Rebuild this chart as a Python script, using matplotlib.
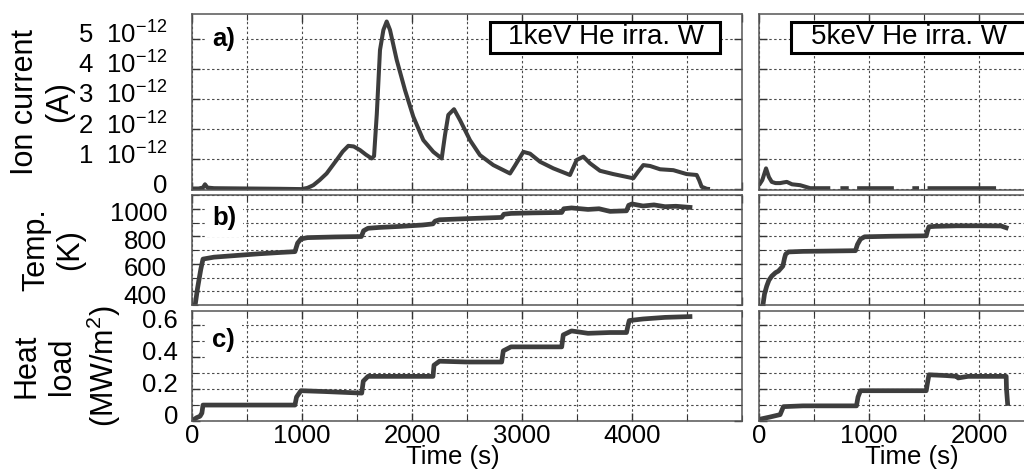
import numpy as np
import matplotlib
matplotlib.use("Agg")
import matplotlib.pyplot as plt
from matplotlib.patches import Rectangle
from matplotlib.ticker import MultipleLocator
import matplotlib.transforms as mtransforms

plt.rcParams['font.family'] = ['Liberation Sans', 'DejaVu Sans']
plt.rcParams['mathtext.fontset'] = 'custom'
plt.rcParams['mathtext.rm'] = 'Liberation Sans'
plt.rcParams['mathtext.it'] = 'Liberation Sans:italic'
plt.rcParams['mathtext.bf'] = 'Liberation Sans:bold'

# ---------------- data (1 keV, left column) ----------------
t_ion_1 = [0, 60, 100, 118, 140, 200, 500, 800, 997, 1050, 1103, 1160, 1224, 1315, 1370,
           1421, 1470, 1527, 1580, 1633, 1655, 1680, 1709, 1740, 1770, 1800, 1861, 1936,
           2012, 2103, 2194, 2270, 2300, 2330, 2382, 2436, 2527, 2618, 2739, 2891, 2936,
           3012, 3073, 3164, 3285, 3436, 3470, 3497, 3558, 3618, 3709, 3830, 4012, 4060,
           4103, 4164, 4255, 4376, 4497, 4588, 4610, 4633, 4680, 4709]
ion_1 = [0.02, 0.02, 0.05, 0.16, 0.05, 0.03, 0.02, 0.01, 0.0, 0.04, 0.13, 0.3, 0.52, 0.97,
         1.25, 1.44, 1.42, 1.3, 1.15, 1.02, 1.1, 2.5, 4.63, 5.3, 5.58, 5.3, 4.3, 3.3, 2.41,
         1.63, 1.24, 1.02, 1.8, 2.47, 2.66, 2.3, 1.63, 1.13, 0.8, 0.52, 0.78, 1.24, 1.18,
         0.91, 0.69, 0.47, 0.75, 0.97, 1.08, 0.86, 0.61, 0.5, 0.36, 0.6, 0.8, 0.77, 0.66,
         0.63, 0.5, 0.47, 0.3, 0.08, 0.01, 0.0]   # x 1e-12 A

t_temp_1 = [27, 50, 80, 100, 200, 400, 600, 800, 936, 960, 990, 1050, 1300, 1540, 1560,
            1600, 1700, 1900, 2100, 2190, 2210, 2250, 2500, 2815, 2835, 2900, 3100, 3361,
            3380, 3450, 3600, 3700, 3800, 3950, 3970, 4000, 4100, 4200, 4300, 4400, 4527]
temp_1 = [290, 420, 560, 634, 648, 660, 672, 682, 688, 750, 780, 790, 795, 798, 840, 858,
          864, 872, 882, 890, 910, 920, 928, 937, 960, 966, 970, 973, 1000, 1006, 995,
          1000, 981, 985, 1025, 1035, 1020, 1028, 1015, 1018, 1010]

t_heat_1 = [0, 40, 73, 90, 100, 400, 936, 950, 990, 1200, 1543, 1557, 1600, 1900, 2191,
            2200, 2250, 2500, 2815, 2830, 2900, 3361, 3375, 3450, 3600, 3800, 3950, 3964,
            3975, 4100, 4300, 4527]
heat_1 = [0, 0.02, 0.03, 0.05, 0.1, 0.1, 0.1, 0.15, 0.19, 0.185, 0.175, 0.25, 0.28, 0.28,
          0.28, 0.35, 0.375, 0.37, 0.37, 0.44, 0.465, 0.465, 0.54, 0.565, 0.55, 0.555,
          0.555, 0.6, 0.63, 0.64, 0.65, 0.655]

# ---------------- data (5 keV, right column) ----------------
t_ion_2 = [0, 30, 64, 90, 116, 150, 192, 220, 253, 300, 374, 420, 466, 648, 649, 740, 816,
           817, 892, 1226, 1227, 1394, 1455, 1456, 1532, 2155]
ion_2 = [0.13, 0.3, 0.69, 0.4, 0.24, 0.2, 0.2, 0.22, 0.24, 0.16, 0.13, 0.08, 0.03, 0.03,
         np.nan, 0.03, 0.03, np.nan, 0.03, 0.03, np.nan, 0.03, 0.03, np.nan, 0.03, 0.03]

t_temp_2 = [34, 50, 70, 90, 116, 150, 177, 217, 232, 242, 268, 400, 600, 877, 895, 922,
            960, 1200, 1520, 1532, 1545, 1600, 1800, 2000, 2200, 2247]
temp_2 = [290, 380, 437, 480, 510, 535, 547, 583, 640, 669, 686, 690, 692, 695, 740, 779,
          796, 800, 803, 840, 869, 872, 876, 876, 875, 862]

t_heat_2 = [0, 100, 192, 210, 222, 400, 700, 886, 900, 922, 1200, 1520, 1532, 1545, 1700,
            1800, 1810, 1900, 2247, 2250, 2260]
heat_2 = [0.01, 0.025, 0.04, 0.07, 0.09, 0.095, 0.095, 0.095, 0.15, 0.19, 0.19, 0.19, 0.24,
          0.29, 0.285, 0.28, 0.27, 0.28, 0.28, 0.2, 0.11]

ion_ticks = [0, 1, 2, 3, 4, 5]
ion_labels = ['0'] + [f'{v}  10$^{{\\mathrm{{-12}}}}$' for v in ion_ticks[1:]]
temp_ticks = [400, 600, 800, 1000]
heat_ticks = [0, 0.2, 0.4, 0.6]
time_ticks_1 = [0, 1000, 2000, 3000, 4000]
time_ticks_2 = [0, 1000, 2000]
titles = ['1keV He irra. W', '5keV He irra. W']
panel_tags = ['a)', 'b)', 'c)']

# ---------------- layout ----------------
W, H = 1024, 475
fig = plt.figure(figsize=(W / 100, H / 100), dpi=100)


def rect(l, t, r, b):
    return [l / W, 1 - b / H, (r - l) / W, (b - t) / H]


rows = [(14, 190), (195, 305), (311, 421)]
cols = [(192, 742), (759, 1034)]
axes = [[fig.add_axes(rect(cl, rt, cr, rb)) for (cl, cr) in cols] for (rt, rb) in rows]

LC = '#3d3d3d'
GC = '#4a4a4a'
FS = 18.5

for r in range(3):
    for c in range(2):
        ax = axes[r][c]
        ax.set_axisbelow(True)
        for s in ax.spines.values():
            s.set_color('#555555')
            s.set_linewidth(1.1)
        ax.tick_params(which='both', direction='in', top=True, right=True,
                       colors='#333333', labelsize=FS, labelcolor='black')
        ax.tick_params(which='major', length=6, width=1)
        ax.tick_params(which='minor', length=4, width=0.8)
        ax.grid(True, which='both', color=GC, linestyle=(0, (2.2, 2.2)), linewidth=0.8)
        if c == 0:
            ax.set_xlim(0, 5000)
        else:
            ax.set_xlim(0, 2500)
        ax.xaxis.set_major_locator(MultipleLocator(1000))
        ax.xaxis.set_minor_locator(MultipleLocator(500))
        if r < 2:
            ax.tick_params(labelbottom=False)

# panel a
for c, (tt, yy) in enumerate([(t_ion_1, ion_1), (t_ion_2, ion_2)]):
    ax = axes[0][c]
    ax.plot(tt, yy, color=LC, lw=2.9, solid_joinstyle='round', solid_capstyle='butt')
    ax.set_ylim(-0.03, 5.83)
    ax.set_yticks(ion_ticks)
    ax.yaxis.set_minor_locator(plt.NullLocator())
# panel b
for c, (tt, yy) in enumerate([(t_temp_1, temp_1), (t_temp_2, temp_2)]):
    ax = axes[1][c]
    ax.plot(tt, yy, color=LC, lw=3.4, solid_joinstyle='round')
    ax.set_ylim(300, 1100)
    ax.set_yticks(temp_ticks)
    ax.yaxis.set_minor_locator(MultipleLocator(100))
# panel c
for c, (tt, yy) in enumerate([(t_heat_1, heat_1), (t_heat_2, heat_2)]):
    ax = axes[2][c]
    ax.plot(tt, yy, color=LC, lw=3.4, solid_joinstyle='round')
    ax.set_ylim(0, 0.69)
    ax.set_yticks(heat_ticks)
    ax.yaxis.set_minor_locator(MultipleLocator(0.1))

axes[0][0].set_yticklabels(ion_labels)
axes[1][0].set_yticklabels([str(v) for v in temp_ticks])
axes[2][0].set_yticklabels(['0', '0.2', '0.4', '0.6'])
axes[0][0].tick_params(axis='y', pad=18)
axes[1][0].tick_params(axis='y', pad=18)
axes[2][0].tick_params(axis='y', pad=10)
for r in range(3):
    axes[r][1].tick_params(axis='y', labelleft=False)

axes[2][0].set_xticks(time_ticks_1)
axes[2][0].set_xticklabels([str(v) for v in time_ticks_1])
axes[2][1].set_xticks(time_ticks_2)
axes[2][1].set_xticklabels([str(v) for v in time_ticks_2])
for c in range(2):
    axes[2][c].tick_params(axis='x', pad=2)

# small vertical offsets of y tick labels as in the reference
for ax, dy in [(axes[0][0], 6), (axes[1][0], -3), (axes[2][0], 7)]:
    off = mtransforms.ScaledTranslation(0, dy / 100, fig.dpi_scale_trans)
    for lab in ax.get_yticklabels():
        lab.set_transform(lab.get_transform() + off)

# panel tags
for r, tag in enumerate(panel_tags):
    ax = axes[r][0]
    rt, rb = rows[r]
    ycen = [39, 218, 340][r]
    ax.text(20 / 550, (rb - ycen) / (rb - rt), tag, transform=ax.transAxes,
            fontsize=18.5, fontweight='bold', ha='left', va='center', zorder=4,
            bbox=dict(facecolor='white', edgecolor='none', pad=5))

# boxes with titles
for c, (bl, br, txc) in enumerate([(490, 720, 606), (791, 1060, 909)]):
    ax = axes[0][c]
    cl, cr = cols[c]
    wpx = cr - cl
    rt, rb = rows[0]
    hpx = rb - rt
    rect_p = Rectangle(((bl - cl) / wpx, (rb - 53) / hpx), (br - bl) / wpx, 31 / hpx,
                       transform=ax.transAxes, facecolor='white', edgecolor='black',
                       linewidth=2.2, zorder=5, clip_on=False)
    ax.add_patch(rect_p)
    ax.text((txc - cl) / wpx, (rb - 37.5) / hpx, titles[c], transform=ax.transAxes,
            fontsize=20, ha='center', va='center', zorder=6)

# y labels
fig.text(42 / W, 1 - 102 / H, 'Ion current\n(A)', rotation=90, ha='center', va='center',
         ma='center', fontsize=22, linespacing=1.15)
fig.text(53 / W, 1 - 250 / H, 'Temp.\n(K)', rotation=90, ha='center', va='center',
         ma='center', fontsize=22, linespacing=1.15)
fig.text(67 / W, 1 - 366 / H, 'Heat\nload\n(MW/m$^\\mathrm{2}$)', rotation=90, ha='center',
         va='center', ma='center', fontsize=22, linespacing=1.25)

# x labels
fig.text(453 / W, 1 - 457 / H, 'Time (s)', ha='center', va='center', fontsize=FS)
fig.text(912 / W, 1 - 457 / H, 'Time (s)', ha='center', va='center', fontsize=FS)

fig.savefig('out.png', dpi=100)
